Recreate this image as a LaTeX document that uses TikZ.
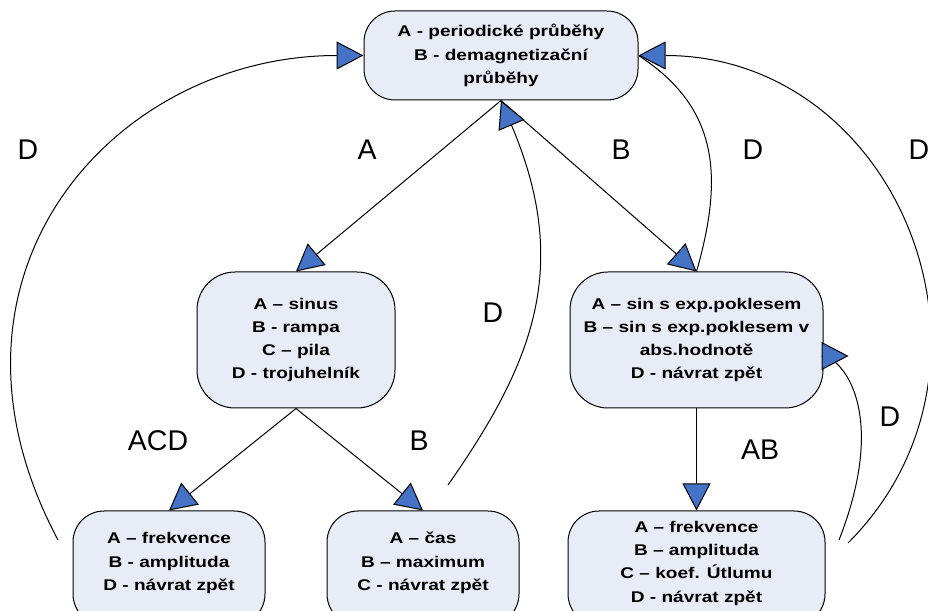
\documentclass[tikz,border=0pt]{standalone}
\usepackage{fontspec}
\setmainfont{Liberation Sans}
\newfontfamily\menufont{Liberation Sans}[FakeStretch=1.23]
\usetikzlibrary{arrows.meta,positioning}
\definecolor{menufill}{RGB}{231,236,247}
\definecolor{tipblue}{RGB}{68,114,196}
\tikzstyle{menu} = [draw, fill=menufill, rounded corners=31pt, align=center, inner sep=2pt, font=\menufont\bfseries\fontsize{15.5pt}{23.3pt}\selectfont]
\tikzstyle{key} = [font=\fontsize{28.5pt}{34pt}\selectfont]

\begin{document}
\begin{tikzpicture}[x=1pt, y=1pt, line width=1pt, node distance=284.5pt, >={Triangle[length=27pt,width=28pt,fill=tipblue]}]
	\useasboundingbox (0,0) rectangle (928,610);
	\node [menu, minimum width=274pt, minimum height=89pt] (top) at (501,554.5) {A - periodické průběhy\\B - demagnetizační\\průběhy};
	\node [menu, below of=top, xshift=-205pt, minimum width=198pt, minimum height=136pt, rounded corners=38pt] (signal) {A – sinus\\B - rampa\\C – pila\\D - trojuhelník};
	\node [menu, below of=top, xshift=195.5pt, minimum width=253pt, minimum height=136pt, rounded corners=38pt] (demag) {A – sin s exp.poklesem\\B – sin s exp.poklesem v\\abs.hodnotě\\D - návrat zpět};
	\node [menu, below of=signal, node distance=228pt, xshift=-127pt, minimum width=192pt, minimum height=114pt] (freq) {A – frekvence\\B - amplituda\\D - návrat zpět\rule[-13pt]{0pt}{13pt}};
	\node [menu, below of=signal, node distance=228pt, xshift=127pt, minimum width=192pt, minimum height=114pt] (time) {A – čas\\B – maximum\\C - návrat zpět\rule[-13pt]{0pt}{13pt}};
	\node [menu, below of=demag, node distance=228pt, minimum width=257pt, minimum height=114pt] (decay) {A – frekvence\\B – amplituda\\C – koef. Útlumu\\D - návrat zpět\rule[-13pt]{0pt}{13pt}};

	\coordinate (fromFreq) at (58,70);
	\coordinate (fromTime) at (448,125);
	\coordinate (fromDecayA) at (839,70);
	\coordinate (fromDecayB) at (848,67);

	\draw [->] (top.south) -- (signal.north);
	\draw [->] (top.south) -- (demag.north);
	\draw [->] (signal.south) -- (freq.north);
	\draw [->] (signal.south) -- (time.north);
	\draw [->] (demag.south) -- (decay.north);
	\draw [->] (fromFreq) .. controls +(118:300) and +(-250,0) .. (top.west);
	\draw [->] (fromTime) .. controls +(55:150) and +(-67:180) .. (top.south);
	\draw (demag.north) .. controls +(74:100) and +(-33:95) .. (top.east);
	\draw [->] (fromDecayB) .. controls +(45:250) and +(260,0) .. (top.east);
	\draw [->] (fromDecayA) .. controls +(51,130) and +(-8,0) .. ([xshift=25pt,yshift=-16pt]demag.east);

	\node [key] (keyLeft) at (28,460) {D};
	\node [key] (keySignal) at (367,460) {A};
	\node [key] (keyDemag) at (621,460) {B};
	\node [key] (keyBack) at (753,460) {D};
	\node [key] (keyRight) at (919,460) {D};
	\node [key] (keyTime) at (493,297) {D};
	\node [key] (keyFreq) at (158,169) {ACD};
	\node [key] (keyMax) at (419,169) {B};
	\node [key] (keyDecay) at (760,160) {AB};
	\node [key] (keyDecayBack) at (890,193) {D};
\end{tikzpicture}
\end{document}
